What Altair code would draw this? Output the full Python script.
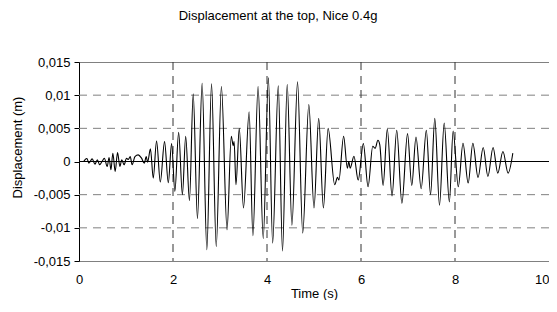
import altair as alt
import pandas as pd

# Time (s) and displacement (mm) (peaks and troughs)
time_s = [0.10, 0.13, 0.17, 0.21, 0.28, 0.34, 0.39, 0.44, 0.49, 0.54, 0.60, 0.64, 0.68, 0.72,
          0.77, 0.82, 0.87, 0.91, 0.96, 1.01, 1.05, 1.09, 1.13, 1.19, 1.26, 1.33, 1.39, 1.43,
          1.46, 1.52, 1.58, 1.65, 1.73, 1.82, 1.90, 1.97, 2.04, 2.12, 2.20, 2.27, 2.35, 2.43,
          2.52, 2.62, 2.72, 2.82, 2.92, 3.03, 3.15, 3.24, 3.28, 3.30, 3.34, 3.41, 3.50, 3.62,
          3.70, 3.81, 3.92, 4.03, 4.12, 4.24, 4.33, 4.43, 4.53, 4.65, 4.76, 4.89, 5.00, 5.10,
          5.20, 5.30, 5.44, 5.50, 5.53, 5.63, 5.71, 5.74, 5.77, 5.85, 5.94, 6.05, 6.15, 6.25,
          6.30, 6.36, 6.40, 6.47, 6.56, 6.66, 6.76, 6.87, 6.99, 7.08, 7.17, 7.28, 7.39, 7.48,
          7.57, 7.67, 7.77, 7.88, 7.96, 8.07, 8.17, 8.28, 8.38, 8.49, 8.60, 8.70, 8.81, 8.91,
          9.02, 9.13, 9.23]
disp_mm = [0.0, 0.3, 0.45, -0.25, 0.4, -0.4, 0.25, -0.5, 0.0, 0.5, -0.75, 0.6, -1.25, 1.25,
           -1.5, 1.35, -0.75, 0.25, -0.5, 0.5, 0.3, 0.75, -0.5, 0.75, 1.0, 0.5, -0.25, 0.75,
           -0.1, 1.9, -2.5, 3.1, -3.1, 3.0, -3.2, 2.7, -4.5, 4.4, -5.0, 3.8, -5.9, 10.2,
           -8.6, 11.8, -13.3, 11.7, -12.8, 11.3, -10.3, 3.8, 2.4, 3.0, -3.5, 5.0, -7.0, 7.5,
           -11.2, 11.3, -11.6, 12.6, -12.3, 11.4, -13.5, 11.6, -9.6, 12.0, -10.8, 8.6, -7.0, 6.5,
           -7.0, 5.0, -3.5, -2.4, -2.8, 3.8, -1.0, 0.0, -1.0, 0.8, -2.8, 2.7, -3.8, 2.3,
           2.0, 3.2, 2.5, -3.6, 4.9, -5.2, 4.7, -6.3, 4.2, -3.6, 3.7, -4.1, 4.7, -5.0,
           6.5, -6.6, 5.8, -6.1, 4.6, -3.8, 2.75, -3.25, 2.75, -2.4, 2.1, -2.25, 2.1, -1.75,
           1.5, -1.75, 1.25]

x_ticks = [0, 2, 4, 6, 8, 10]
y_ticks = [-0.015, -0.01, -0.005, 0, 0.005, 0.01, 0.015]
x_grid = [2, 4, 6, 8]
y_grid = [-0.01, -0.005, 0.005, 0.01]
zero_line = [0]

FONT = "Liberation Sans"

df = pd.DataFrame({"t": time_s, "d": [v / 1000 for v in disp_mm]})

xscale = alt.Scale(domain=[0, 10], nice=False, zero=False)
yscale = alt.Scale(domain=[-0.015, 0.015], nice=False, zero=False)

xaxis = alt.Axis(
    values=x_ticks, title="Time (s)", grid=False, ticks=False, domain=False,
    labelPadding=12, labelFontSize=13, labelFont=FONT, labelColor="black",
    labelAlign={"condition": {"test": "datum.value == 10", "value": "right"}, "value": "center"},
    titleFontSize=13, titleFont=FONT, titleFontWeight="normal", titleColor="black",
    titleY=26, titleBaseline="top", labelFlush=False)
yaxis = alt.Axis(
    values=y_ticks, labelExpr="replace(toString(datum.value), '.', ',')",
    title="Displacement (m)", grid=False, domainColor="black", tickColor="black",
    tickSize=5, labelPadding=4, labelFontSize=13, labelFont=FONT, labelColor="black",
    titleFontSize=13, titleFont=FONT, titleFontWeight="normal", titleColor="black",
    titleX=-62, titleY=85, titleBaseline="middle", titleAlign="center")

xgrid = alt.Chart(pd.DataFrame({"t": x_grid})).mark_rule(
    color="#333333", strokeDash=[8, 6], strokeWidth=1
).encode(x=alt.X("t:Q", scale=xscale, axis=xaxis))

ygrid = alt.Chart(pd.DataFrame({"d": y_grid})).mark_rule(
    color="#808080", strokeDash=[8, 6], strokeWidth=1
).encode(y=alt.Y("d:Q", scale=yscale, axis=yaxis))

zero = alt.Chart(pd.DataFrame({"d": zero_line})).mark_rule(
    color="black", strokeWidth=1
).encode(y=alt.Y("d:Q", scale=yscale, axis=yaxis))

line = alt.Chart(df).mark_line(
    color="black", strokeWidth=1.1, interpolate="monotone"
).encode(
    x=alt.X("t:Q", scale=xscale, axis=xaxis),
    y=alt.Y("d:Q", scale=yscale, axis=yaxis),
)

chart = alt.layer(ygrid, xgrid, zero, line).properties(
    width=470, height=199,
    title=alt.TitleParams("Displacement at the top, Nice 0.4g", fontSize=13,
                          fontWeight="normal", font=FONT, color="black",
                          anchor="middle", dx=-36, offset=33),
    autosize=alt.AutoSizeParams(type="none"),
    padding={"left": 71, "top": 54, "right": 0, "bottom": 39},
).configure_view(stroke="#808080", strokeWidth=1)

chart.save("out.html", embed_options={"renderer": "svg", "actions": False})
